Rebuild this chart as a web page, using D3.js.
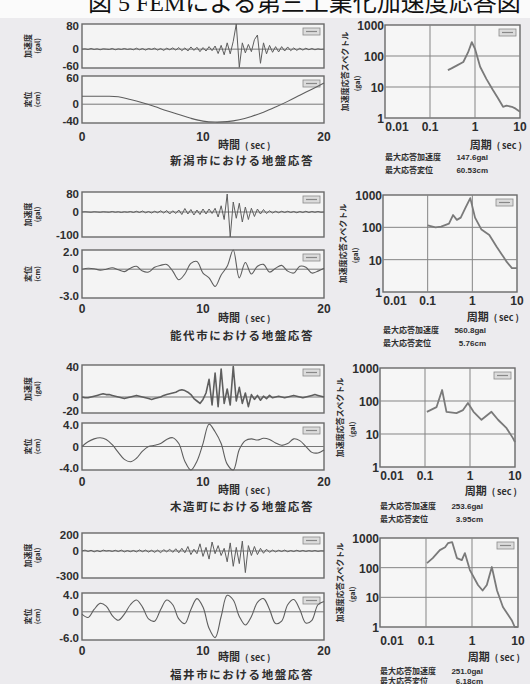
<!DOCTYPE html>
<html>
<head>
<meta charset="utf-8">
<script src="https://cdn.jsdelivr.net/npm/d3@7"></script>
<style>
  html, body { margin: 0; padding: 0; background: #ecebee; }
  svg { display: block; }
</style>
</head>
<body>
<svg id="fig" width="530" height="684"></svg>
<script>
// ---- data ----------------------------------------------------------------
const titleText = "図 5 FEMによる第三工業化加速度応答図";
const sites = ["新潟市", "能代市", "木造町", "福井市"];

const timeTicks = [0, 10, 20];
const accStep = 0.25;   // seconds between acceleration samples
const dispStep = 0.5;   // seconds between displacement samples (Niigata: 1.0)

const accDomains = [[-60, 80], [-100, 80], [-20, 40], [-300, 200]];
const accTickLabels = [["80", "0", "-60"], ["80", "0", "-100"], ["40", "0", "-20"], ["200", "0", "-300"]];
const dispDomains = [[-40, 60], [-3, 2], [-4, 4], [-6, 4]];
const dispTickLabels = [["60", "0", "-40"], ["2.0", "0", "-3.0"], ["4.0", "0", "-4.0"], ["4.0", "0", "-6.0"]];

const periodTicks = [0.01, 0.1, 1, 10];
const periodTickLabels = ["0.01", "0.1", "1", "10"];
const spectrumTicks = [1, 10, 100, 1000];
const spectrumTickLabels = ["1", "10", "100", "1000"];

const maxAcc = ["147.6gal", "560.8gal", "253.6gal", "251.0gal"];
const maxDisp = ["60.53cm", "5.76cm", "3.95cm", "6.18cm"];

// acceleration time histories (gal), every 0.25 s from 0 to 20 s
const accNiigata = [
  0, 1, -1, 2, -1, 1, -2, 1, 0,
  -1, 2, -2, 1, -1, 2, -1, 1,
  -2, 3, -2, 2, -3, 2, -1, 3,
  -3, 2, -4, 3, -2, 4, -3, 5,
  -5, 4, -6, 7, -4, 6, -8, 5,
  -6, 8, -5, 10, -14, 12, -18, 20,
  -15, 25, 80, -58, 20, -12, 15, -8,
  30, 45, -45, 20, -15, 12, -10, 8,
  -9, 8, -6, 7, -5, 4, -4, 3,
  -3, 3, -2, 2, -2, 1, -1, 0
];
const accNoshiro = [
  0, 1, 0, -1, 1, 0, -1, 1, 0,
  -1, 2, -1, 1, -2, 1, -1, 2,
  -2, 3, -2, 4, -3, 2, -4, 3,
  -3, 5, -4, 6, -8, 5, -6, 8,
  -10, 14, -8, 10, -12, 8, -10, 12,
  -8, 12, -6, 15, -20, 25, -30, 72,
  -100, 40, -25, 35, -40, 20, -30, 15,
  -18, 12, -8, 10, -6, 5, -4, 3,
  -3, 3, -2, 3, -2, 2, -3, 2,
  -2, 3, -2, 2, -1, 2, -1, 0
];
const accKizukuri = [
  0, -1, -1, 0, 1, 2, 3, 4, 3,
  3, 2, 1, 0, -1, -2, -1, 0,
  1, 2, 1, 0, -1, -2, -3, -2,
  -1, 0, 2, 3, 4, 5, 6, 8,
  9, 8, 6, 3, -2, -5, -8, -3,
  5, 22, -10, 30, -12, 35, -8, 10,
  -10, 38, -5, 12, -8, 5, -12, 3,
  -3, 2, -4, 1, -2, 2, -1, 0,
  1, 0, -1, 0, 1, 2, 1, 0,
  -1, 0, 1, 2, 3, 2, 1, 0
];
const accFukui = [
  0, 10, -5, 8, -10, 5, -8, 10, 0,
  5, -5, 8, -6, 10, -10, 5, -8,
  6, -10, 12, -8, 10, -12, 8, -15,
  10, -20, 15, -10, 20, -15, 25, -20,
  30, -20, 50, -40, 20, -30, 80, -60,
  40, -90, 100, -30, 60, -50, 30, -120,
  90, -170, 40, -140, 110, -240, 60, -50,
  50, -40, 30, -25, 20, -15, 10, -10,
  8, -6, 10, -8, 5, -6, 8, -5,
  6, -5, 4, -3, 5, -4, 2, 0
];

// displacement time histories (cm)
const dispNiigata = [17, 17, 17, 16, 10, 3, -5, -14, -22, -30, -36, -38, -37, -33, -26, -17, -6, 6, 19, 32, 45]; // every 1 s
const dispNoshiro = [
  0, 0.1, 0.05, -0.1, 0, 0.15, -0.05, -0.25, 0.1, 0.3, -0.2, -0.3, 0.2, 0.4, 0.5, -0.2,
  -1.1, -0.5, 0.6, 0.8, -0.4, -0.9, -1.8, -0.6, 0.3, 2.0, -0.9, 0.7, -0.5, 0.3, 0.5,
  -0.3, 0.1, 0.4, -0.2, -0.4, 0.3, 0.2, -0.4, -0.2, 0.1
];
const dispKizukuri = [
  0, 0.8, 1.3, 1.5, 1.2, 0.3, -1.0, -2.2, -2.6, -2.0, -0.8, 0, 0.2, 0.5, 1.2, 1.5,
  0.5, -2.5, -4.0, -2.5, 0.5, 3.8, 2.5, 0.5, -3.0, -4.0, -0.5, 1.0, 1.3, 1.1, 1.4,
  1.2, 0.6, 0.2, 0.5, 1.3, 1.0, 0, -1.0, -1.1, -0.6
];
const dispFukui = [
  -0.5, -1.2, 0.5, 1.8, 1.2, -0.8, -1.8, -0.5, 1.5, 2.5, 1.0, -1.5, -2.0, 0.5, 2.5, 1.5,
  -1.5, -2.5, 0.5, 2.8, 1.0, -3.5, -5.5, -1.0, 3.5, 2.5, -1.0, -2.8, -1.0, 2.0, 2.8,
  0.5, -2.5, -2.0, 1.5, 2.6, 0.5, -2.4, -1.8, 1.5, 2.2
];

// acceleration response spectra: [period (sec), response (gal)]
const specNiigata = [[0.25, 35], [0.3, 40], [0.4, 50], [0.55, 64], [0.7, 130], [0.85, 280], [1.0, 170], [1.3, 45], [1.8, 18], [2.5, 8], [3.2, 4.5], [4.2, 2.3], [5, 2.5], [6.6, 2.3], [8, 2], [10, 1.6]];
const specNoshiro = [[0.1, 115], [0.15, 100], [0.2, 105], [0.3, 130], [0.37, 240], [0.45, 170], [0.55, 200], [0.7, 400], [0.9, 800], [1.15, 200], [1.6, 85], [2.4, 58], [3.5, 25], [5, 12], [5.9, 8.5], [7.7, 5.5], [10, 5.5]];
const specKizukuri = [[0.11, 47], [0.18, 65], [0.24, 215], [0.3, 47], [0.5, 43], [0.7, 53], [0.9, 87], [1.2, 47], [1.8, 27], [3, 47], [4.2, 27], [6.5, 15], [9, 7.5], [10, 5.7]];
const specFukui = [[0.105, 143], [0.14, 210], [0.2, 390], [0.26, 490], [0.3, 670], [0.37, 730], [0.47, 210], [0.6, 180], [0.7, 310], [0.9, 83], [1.35, 26], [1.7, 17], [2.1, 26], [2.7, 105], [3.5, 17], [4.7, 4.7], [7.3, 1.7], [8.5, 1], [10, 1]];

const accSeries = [accNiigata, accNoshiro, accKizukuri, accFukui];
const dispSeries = [dispNiigata, dispNoshiro, dispKizukuri, dispFukui];
const dispSteps = [1.0, dispStep, dispStep, dispStep];
const spectra = [specNiigata, specNoshiro, specKizukuri, specFukui];

// ---- layout ----------------------------------------------------------------
const rows = [
  { acc: [24, 68],   disp: [76, 123],  tickY: 141, timeY: 149, capY: 165,
    sx: [385, 520], sy: [25, 118],  pTickY: 131, periodY: 149, statY: [160, 173] },
  { acc: [192, 237], disp: [250, 298], tickY: 313, timeY: 322, capY: 340,
    sx: [383, 517], sy: [195, 292], pTickY: 305, periodY: 321, statY: [333, 346] },
  { acc: [365, 413], disp: [423, 470], tickY: 486, timeY: 494, capY: 511,
    sx: [380, 515], sy: [368, 467], pTickY: 480, periodY: 495, statY: [509, 522] },
  { acc: [533, 578], disp: [593, 640], tickY: 655, timeY: 661, capY: 679,
    sx: [380, 518], sy: [538, 627], pTickY: 645, periodY: 661, statY: [674, 684] }
];

const JP = "'Noto Sans CJK JP', sans-serif";
const NUM = "'Liberation Sans', Arial, sans-serif";
const INK = "#2e2e2e";
const LINE = "#5e5e5e";

const svg = d3.select("#fig");
svg.append("rect").attr("width", 530).attr("height", 684).attr("fill", "#ecebee");
svg.append("rect").attr("width", 530).attr("height", 18).attr("fill", "#fbfbfb");
svg.append("text")
  .attr("x", 88).attr("y", 11)
  .attr("font-family", "'Liberation Serif', 'Noto Sans CJK JP', serif")
  .attr("font-size", 24).attr("fill", "#111")
  .text(titleText);

const x = d3.scaleLinear().domain([0, 20]).range([82, 324]);

function vtext(g, tx, ty, str, size) {
  g.append("text")
    .attr("transform", `translate(${tx},${ty}) rotate(-90)`)
    .attr("text-anchor", "middle")
    .attr("font-family", JP).attr("font-weight", 700)
    .attr("font-size", size).attr("fill", INK)
    .text(str);
}

function legendBox(g, x1, y0) {
  g.append("rect").attr("x", x1 - 21).attr("y", y0 + 4).attr("width", 17).attr("height", 7)
    .attr("fill", "#dcdcdc").attr("stroke", "#8a8a8a").attr("stroke-width", 0.8);
  g.append("line").attr("x1", x1 - 18).attr("x2", x1 - 7).attr("y1", y0 + 7.5).attr("y2", y0 + 7.5)
    .attr("stroke", "#888").attr("stroke-width", 1.2);
}

function timePanel(g, yr, domain, labels, values, step, curve, lw) {
  const y = d3.scaleLinear().domain(domain).range([yr[1], yr[0]]);
  const [x0, x1] = x.range();
  g.append("rect").attr("x", x0).attr("y", yr[0]).attr("width", x1 - x0).attr("height", yr[1] - yr[0])
    .attr("fill", "#f4f4f4").attr("stroke", "#6a6a6a").attr("stroke-width", 1.4);
  g.append("line").attr("x1", x0).attr("x2", x1).attr("y1", y(0)).attr("y2", y(0))
    .attr("stroke", "#777").attr("stroke-width", 1);
  legendBox(g, x1, yr[0]);
  const line = d3.line().x((d, i) => x(i * step)).y(d => y(d)).curve(curve);
  g.append("path").datum(values).attr("d", line)
    .attr("fill", "none").attr("stroke", LINE).attr("stroke-width", lw).attr("stroke-linejoin", "round");
  // top label sits a little low and bottom label a little high so stacked panels stay legible
  const tickVals = [domain[1], 0, domain[0]];
  const nudge = [2, 0, -2.5];
  g.selectAll(null).data(tickVals).join("text")
    .attr("x", x0 - 3).attr("y", (d, i) => y(d) + 4 + nudge[i])
    .attr("text-anchor", "end")
    .attr("font-family", NUM).attr("font-weight", 700).attr("font-size", 11.5).attr("fill", INK)
    .text((d, i) => labels[i]);
}

rows.forEach((r, k) => {
  const g = svg.append("g");

  // acceleration and displacement histories
  timePanel(g, r.acc, accDomains[k], accTickLabels[k], accSeries[k], accStep,
            d3.curveLinear, k === 2 ? 1.6 : 1);
  timePanel(g, r.disp, dispDomains[k], dispTickLabels[k], dispSeries[k], dispSteps[k],
            d3.curveCatmullRom, 1.1);

  vtext(g, 31, (r.acc[0] + r.acc[1]) / 2, "加速度", 8);
  vtext(g, 40, (r.acc[0] + r.acc[1]) / 2, "(gal)", 7);
  vtext(g, 31, (r.disp[0] + r.disp[1]) / 2, "変位", 8);
  vtext(g, 40, (r.disp[0] + r.disp[1]) / 2, "(cm)", 7);

  g.selectAll(null).data(timeTicks).join("text")
    .attr("x", d => x(d)).attr("y", r.tickY)
    .attr("text-anchor", "middle")
    .attr("font-family", NUM).attr("font-weight", 700).attr("font-size", 12).attr("fill", INK)
    .text(d => d);

  const tl = g.append("text").attr("x", 218).attr("y", r.timeY)
    .attr("font-family", JP).attr("font-weight", 700).attr("fill", INK);
  tl.append("tspan").attr("font-size", 11).text("時間");
  tl.append("tspan").attr("font-size", 9).attr("dx", 5).text("( sec )");

  g.append("text").attr("x", 242).attr("y", r.capY).attr("text-anchor", "middle")
    .attr("font-family", JP).attr("font-weight", 700).attr("font-size", 11.5)
    .attr("letter-spacing", 1.6).attr("fill", INK)
    .text(sites[k] + "における地盤応答");

  // response spectrum
  const px = d3.scaleLog().domain([0.01, 10]).range(r.sx);
  const py = d3.scaleLog().domain([1, 1000]).range([r.sy[1], r.sy[0]]);
  g.append("rect").attr("x", r.sx[0]).attr("y", r.sy[0])
    .attr("width", r.sx[1] - r.sx[0]).attr("height", r.sy[1] - r.sy[0])
    .attr("fill", "#f6f6f6").attr("stroke", "#6a6a6a").attr("stroke-width", 1.4);
  g.selectAll(null).data([0.1, 1]).join("line")
    .attr("x1", d => px(d)).attr("x2", d => px(d)).attr("y1", r.sy[0]).attr("y2", r.sy[1])
    .attr("stroke", "#858585").attr("stroke-width", 1);
  g.selectAll(null).data([10, 100]).join("line")
    .attr("x1", r.sx[0]).attr("x2", r.sx[1]).attr("y1", d => py(d)).attr("y2", d => py(d))
    .attr("stroke", "#858585").attr("stroke-width", 1);
  legendBox(g, r.sx[1], r.sy[0]);

  const sline = d3.line().x(d => px(d[0])).y(d => py(d[1]));
  g.append("path").datum(spectra[k]).attr("d", sline)
    .attr("fill", "none").attr("stroke", "#7a7a7a").attr("stroke-width", 1.8)
    .attr("stroke-linejoin", "round");

  g.selectAll(null).data(spectrumTicks).join("text")
    .attr("x", r.sx[0] - 1).attr("y", d => py(d) + 5)
    .attr("text-anchor", "end")
    .attr("font-family", NUM).attr("font-weight", 700).attr("font-size", 12).attr("fill", INK)
    .text((d, i) => spectrumTickLabels[i]);
  g.selectAll(null).data(periodTicks).join("text")
    .attr("x", (d, i) => px(d) + (i === 0 ? 12 : 0)).attr("y", r.pTickY)
    .attr("text-anchor", "middle")
    .attr("font-family", NUM).attr("font-weight", 700).attr("font-size", 12).attr("fill", INK)
    .text((d, i) => periodTickLabels[i]);

  vtext(g, r.sx[0] - 37, (r.sy[0] + r.sy[1]) / 2, "加速度応答スペクトル", 8);
  vtext(g, r.sx[0] - 25, (r.sy[0] + r.sy[1]) / 2 + 12, "(gal)", 7);

  const pl = g.append("text").attr("x", r.sx[1] + 2).attr("y", r.periodY).attr("text-anchor", "end")
    .attr("font-family", JP).attr("font-weight", 700).attr("fill", INK);
  pl.append("tspan").attr("font-size", 11).text("周期");
  pl.append("tspan").attr("font-size", 9).attr("dx", 5).text("( sec )");

  [["最大応答加速度", maxAcc[k]], ["最大応答変位", maxDisp[k]]].forEach((s, j) => {
    g.append("text").attr("x", r.sx[0]).attr("y", r.statY[j])
      .attr("font-family", JP).attr("font-weight", 700).attr("font-size", 8).attr("fill", INK)
      .text(s[0]);
    g.append("text").attr("x", r.sx[0] + 103).attr("y", r.statY[j]).attr("text-anchor", "end")
      .attr("font-family", NUM).attr("font-weight", 700).attr("font-size", 8).attr("fill", INK)
      .text(s[1]);
  });
});
</script>
</body>
</html>
